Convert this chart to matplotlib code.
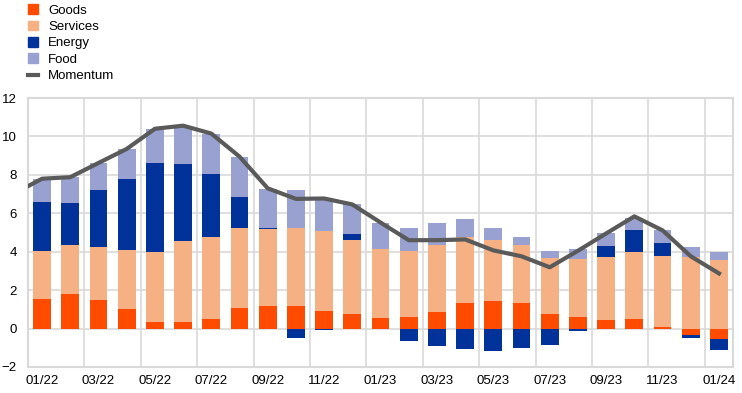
import numpy as np
import matplotlib.pyplot as plt
from matplotlib.patches import Patch
from matplotlib.lines import Line2D

plt.rcParams['font.family'] = ['Liberation Sans', 'DejaVu Sans']

months = ['01/22', '02/22', '03/22', '04/22', '05/22', '06/22', '07/22', '08/22', '09/22',
          '10/22', '11/22', '12/22', '01/23', '02/23', '03/23', '04/23', '05/23', '06/23',
          '07/23', '08/23', '09/23', '10/23', '11/23', '12/23', '01/24']
goods = [1.52, 1.78, 1.47, 1.00, 0.33, 0.33, 0.48, 1.06, 1.16, 1.16, 0.90, 0.74, 0.54,
         0.59, 0.85, 1.32, 1.42, 1.32, 0.74, 0.59, 0.43, 0.48, 0.07, -0.35, -0.55]
services = [2.50, 2.57, 2.76, 3.07, 3.64, 4.21, 4.26, 4.15, 4.00, 4.10, 4.16, 3.85, 3.58,
            3.43, 3.48, 3.42, 3.17, 3.01, 2.91, 3.01, 3.28, 3.49, 3.69, 3.71, 3.55]
energy = [2.59, 2.21, 2.96, 3.74, 4.67, 4.05, 3.33, 1.66, 0.10, -0.48, -0.07, 0.31, 0.0,
          -0.66, -0.92, -1.07, -1.18, -1.02, -0.87, -0.14, 0.57, 1.14, 0.67, -0.16, -0.57]
food = [1.20, 1.32, 1.45, 1.56, 1.77, 1.97, 2.08, 2.08, 2.03, 1.93, 1.76, 1.56, 1.40,
        1.19, 1.14, 0.94, 0.67, 0.41, 0.37, 0.52, 0.67, 0.67, 0.68, 0.52, 0.42]
# momentum incl. 12/21 value, which sits just outside the left edge
momentum_prev = 7.02
momentum = [7.80, 7.88, 8.62, 9.35, 10.40, 10.56, 10.15, 8.95, 7.30, 6.75, 6.77, 6.46, 5.52,
            4.60, 4.60, 4.64, 4.07, 3.76, 3.19, 4.05, 4.95, 5.84, 5.11, 3.76, 2.87]

series = [('Goods', goods, '#ff4b00'),
          ('Services', services, '#f5b183'),
          ('Energy', energy, '#003299'),
          ('Food', food, '#98a1d0')]
line_col = '#5a5a5a'
grid_col = '#d9d9d9'

fig = plt.figure(figsize=(7.42, 3.93), dpi=100)
ax = fig.add_axes([0.0377, 0.0662, 0.9503, 0.6844])

x = np.arange(len(months))
pos = np.zeros(len(months))
neg = np.zeros(len(months))
for name, vals, col in series:
    v = np.array(vals)
    bottom = np.where(v >= 0, pos, neg)
    ax.bar(x, v, 0.63, bottom=bottom, color=col, zorder=2)
    pos = pos + np.where(v >= 0, v, 0)
    neg = neg + np.where(v < 0, v, 0)

ax.plot(np.arange(-1, len(months)), [momentum_prev] + momentum, color=line_col, lw=3,
        solid_joinstyle='round', zorder=3)

ax.set_xlim(-0.5, len(months) - 0.5)
ax.set_ylim(-2, 12)
ax.set_yticks(np.arange(-2, 13, 2))
ax.set_xticks(x[::2])
ax.set_xticklabels(months[::2])
ax.set_xticks(np.arange(-0.5, len(months), 2), minor=True)
ax.tick_params(which='both', length=0, labelsize=9.5, colors='#000000')
ax.tick_params(axis='y', pad=8)
ax.tick_params(axis='x', pad=6)
ax.grid(axis='y', color=grid_col, lw=1.2, zorder=0)
ax.grid(axis='x', which='minor', color=grid_col, lw=1.2, zorder=0)
for s in ax.spines.values():
    s.set_color(grid_col)
    s.set_linewidth(1.5)

handles = [Patch(color=c, label=n) for n, _, c in series]
handles.append(Line2D([0], [0], color=line_col, lw=3, label='Momentum'))
fig.legend(handles=handles, loc='upper left', bbox_to_anchor=(0.024, 1.016), frameon=False,
           fontsize=9.5, handlelength=0.75, handleheight=0.75, labelspacing=0.3,
           handletextpad=0.75, borderpad=0.3)

fig.savefig('out.png', dpi=100)
